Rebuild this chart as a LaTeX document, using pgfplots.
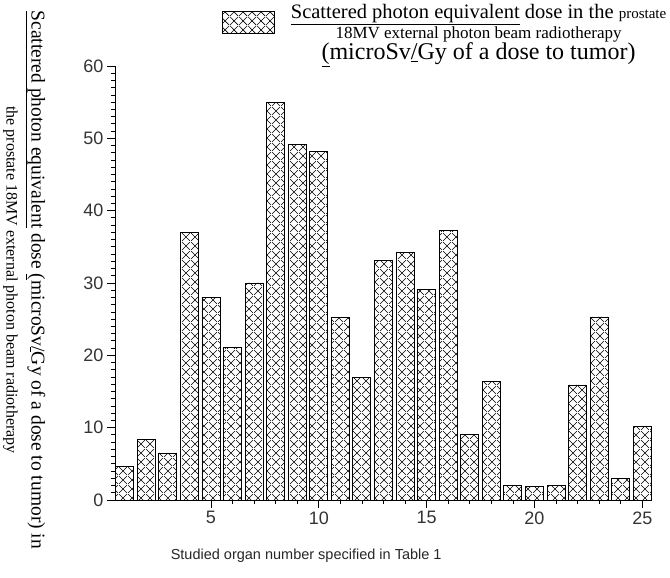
\documentclass[border=0pt]{standalone}
\usepackage{fontspec}
\setmainfont{Liberation Serif}
\setsansfont{Liberation Sans}
\usepackage{pgfplots}
\pgfplotsset{compat=1.18}
\usetikzlibrary{patterns.meta}

% diamond cross-hatch used by the bars
\tikzdeclarepattern{
  name=diamonds,
  type=uncolored,
  bounding box={(0bp,0bp) and (8.5bp,8.5bp)},
  tile size={(8.5bp,8.5bp)},
  code={\draw[line width=0.6bp] (0bp,0bp) -- (8.5bp,8.5bp) (0bp,8.5bp) -- (8.5bp,0bp);}
}

\pgfplotstableread{
organ dose
1  4.6
2  8.4
3  6.5
4  37.0
5  28.0
6  21.1
7  30.0
8  55.0
9  49.2
10 48.2
11 25.2
12 16.9
13 33.1
14 34.2
15 29.1
16 37.2
17 9.0
18 16.4
19 2.0
20 1.9
21 2.0
22 15.9
23 25.3
24 3.0
25 10.1
}\dosetable

\begin{document}
\begin{tikzpicture}
\useasboundingbox (0,0) rectangle (670bp,578bp);
\begin{axis}[
  at={(115bp,78bp)},
  scale only axis,
  width=537bp, height=434bp,
  xmin=0.55, xmax=25.45,
  ymin=0, ymax=60,
  axis lines*=left,
  axis line style={line width=1bp},
  tick align=outside,
  xtick={5,10,...,25},
  ytick={0,10,...,60},
  minor x tick num=4,
  minor y tick num=9,
  major tick length=8bp,
  minor tick length=4bp,
  tick style={line width=0.8bp, black},
  /pgf/number format/assume math mode=true,
  ticklabel style={font=\sffamily\fontsize{18bp}{18bp}\selectfont, text=black!80},
  xlabel={Studied organ number specified in Table 1},
  xlabel style={font=\sffamily\fontsize{14.5bp}{16bp}\selectfont, text=black!85,
    at={(axis description cs:0.356,-0.128)}, anchor=center},
  ylabel={\underline{Scattered photon equivalent} dose \underline{(}microSv\underline{/}Gy of a dose to tumor) in\\
    {\fontsize{16bp}{19bp}\selectfont the prostate 18MV external photon beam radiotherapy}},
  ylabel style={font=\fontsize{19.5bp}{25bp}\selectfont, align=center,
    at={(axis description cs:-0.169,0.507)}, rotate=180, anchor=center},
  legend style={at={(axis description cs:0.199,1.147)}, anchor=north west,
    draw=none, fill=none, inner sep=0pt, column sep=14bp,
    cells={align=center}, font=\fontsize{20.5bp}{19.5bp}\selectfont},
  legend image code/.code={
    \draw[black, line width=0.8bp, pattern=diamonds] (0bp,-1bp) rectangle (52bp,21bp);},
]
\addplot[ybar, bar width=18bp, draw=black, line width=0.9bp, pattern=diamonds]
  table[x=organ, y=dose] {\dosetable};
\addlegendentry{\underline{Scattered photon equivalent} dose in the {\fontsize{15bp}{19.5bp}\selectfont prostate}\\
  {\fontsize{17bp}{19.5bp}\selectfont 18MV external photon beam radiotherapy}\\
  {\fontsize{24bp}{19.5bp}\selectfont\underline{(}microSv\underline{/}Gy of a dose to tumor)}}
\end{axis}
\end{tikzpicture}
\end{document}
